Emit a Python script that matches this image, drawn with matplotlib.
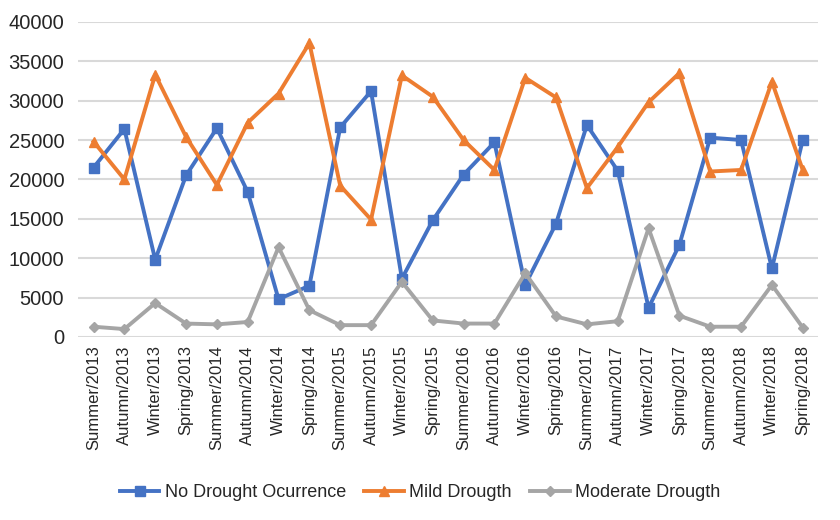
"""
Drought occurrence by season, 2013-2018
"""

import numpy as np
import matplotlib
matplotlib.use("Agg")
import matplotlib.pyplot as plt

plt.rcParams["font.family"] = ["Liberation Sans", "DejaVu Sans"]

seasons = [
    "Summer/2013", "Autumn/2013", "Winter/2013", "Spring/2013",
    "Summer/2014", "Autumn/2014", "Winter/2014", "Spring/2014",
    "Summer/2015", "Autumn/2015", "Winter/2015", "Spring/2015",
    "Summer/2016", "Autumn/2016", "Winter/2016", "Spring/2016",
    "Summer/2017", "Autumn/2017", "Winter/2017", "Spring/2017",
    "Summer/2018", "Autumn/2018", "Winter/2018", "Spring/2018",
]

no_drought = [
    21500, 26400, 9800, 20500, 26500, 18400, 4800, 6500,
    26600, 31200, 7400, 14800, 20600, 24700, 6600, 14400,
    26900, 21100, 3700, 11700, 25300, 25000, 8700, 25000,
]

mild = [
    24800, 20000, 33300, 25400, 19300, 27200, 30900, 37300,
    19200, 14900, 33200, 30500, 25000, 21200, 32900, 30400,
    18900, 24100, 29800, 33500, 21000, 21200, 32400, 21200,
]

moderate = [
    1300, 1000, 4300, 1700, 1600, 1900, 11400, 3400,
    1500, 1500, 7000, 2100, 1700, 1700, 8100, 2600,
    1600, 2000, 13800, 2700, 1300, 1300, 6600, 1200,
]

series = [
    ("No Drought Ocurrence", no_drought, "#4472C4", "s", 7),
    ("Mild Drougth", mild, "#ED7D31", "^", 7),
    ("Moderate Drougth", moderate, "#A5A5A5", "D", 5),
]

fig = plt.figure(figsize=(8.4, 5.2), dpi=100)
ax = fig.add_axes([0.093, 0.352, 0.881, 0.606])

x = np.arange(len(seasons))
for label, vals, color, marker, ms in series:
    ax.plot(x, vals, color=color, lw=2.8, marker=marker, ms=ms, label=label)

ax.set_xlim(-0.5, len(seasons) - 0.5)
ax.set_ylim(0, 40000)
ax.set_yticks(np.arange(0, 40001, 5000))
ax.set_xticks(x)
ax.set_xticklabels(seasons, rotation=90, fontsize=12)
ax.tick_params(axis="y", labelsize=14.5, length=0, pad=10, labelcolor="#262626")
ax.tick_params(axis="x", length=0, pad=6, labelcolor="#262626")
ax.yaxis.grid(True, color="#D9D9D9", lw=1.5)
ax.set_axisbelow(True)
for sp in ax.spines.values():
    sp.set_visible(False)

fig.legend(loc="center", bbox_to_anchor=(0.5, 0.052), ncol=3, frameon=False,
           fontsize=13, handlelength=2.2, columnspacing=1.0, handletextpad=0.3,
           labelcolor="#262626")

fig.savefig("out.png", dpi=100)
